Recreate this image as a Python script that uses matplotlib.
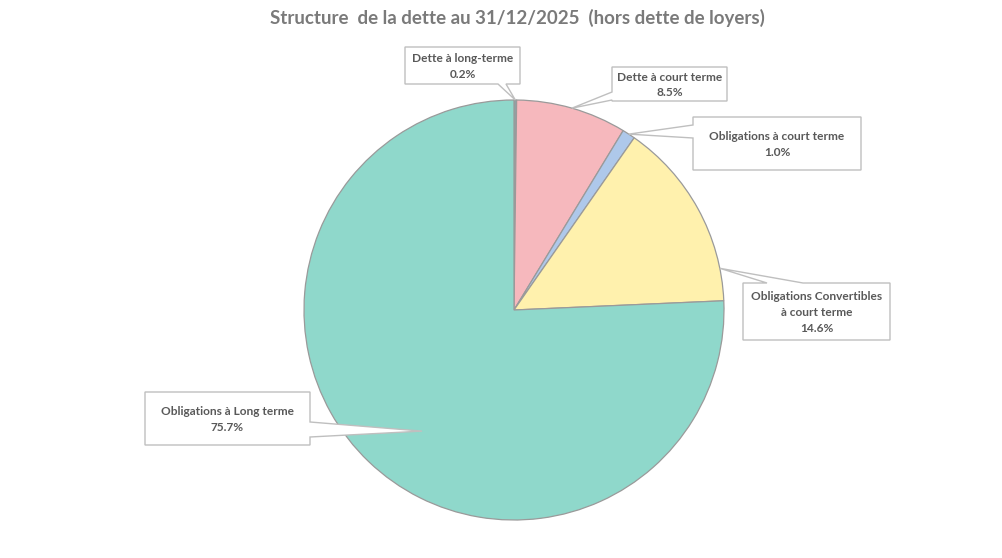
import numpy as np
import matplotlib.pyplot as plt
from matplotlib.patches import Polygon

plt.rcParams['font.family'] = ['Lato', 'DejaVu Sans']

# données
labels = ['Dette à long-terme', 'Dette à court terme', 'Obligations à court terme',
          'Obligations Convertibles\nà court terme', 'Obligations à Long terme']
values = [0.2, 8.5, 1.0, 14.6, 75.7]
colors = ['#8fa3a8', '#f6b8bd', '#aec8ea', '#fff1ad', '#8fd8cb']

W, H = 1002, 558
fig = plt.figure(figsize=(W / 100, H / 100), dpi=100)
ax = fig.add_axes([0, 0, 1, 1])

cx, cy, R = 514, H - 310, 210
wedges, _ = ax.pie(values, colors=colors, startangle=90, counterclock=False,
                   center=(cx, cy), radius=R, frame=True,
                   wedgeprops=dict(edgecolor='#9a9a9a', linewidth=0.9))
ax.set_xlim(0, W)
ax.set_ylim(0, H)
ax.set_aspect('equal')
ax.axis('off')


def px(x, y):
    return (x, H - y)


# boîtes des étiquettes (pixels): box, côté du pointeur, base, position sur la part, rayon
callouts = [
    ((405, 47, 520, 84), 'bottom', (498, 506), 0.5, 1.0),
    ((612, 67, 727, 101), 'left', (92, 100), 0.5, 1.0),
    ((693, 117, 861, 170), 'left', (125, 138), 0.5, 1.0),
    ((743, 283, 890, 340), 'top', (767, 803), 0.83, 1.0),
    ((145, 392, 310, 445), 'right', (422, 437), 0.476, 0.724),
]

for wdg, lab, val, (box, side, base, wpos, rf) in zip(wedges, labels, values, callouts):
    ang = np.radians(wdg.theta2 - wpos * (wdg.theta2 - wdg.theta1))
    tip = (cx + R * rf * np.cos(ang), cy + R * rf * np.sin(ang))
    x0, y0, x1, y1 = box
    a, b = base
    if side == 'bottom':
        pts = [px(x0, y0), px(x1, y0), px(x1, y1), px(b, y1), tip, px(a, y1), px(x0, y1)]
    elif side == 'left':
        pts = [px(x0, y0), px(x1, y0), px(x1, y1), px(x0, y1), px(x0, b), tip, px(x0, a)]
    elif side == 'top':
        pts = [px(x0, y0), px(a, y0), tip, px(b, y0), px(x1, y0), px(x1, y1), px(x0, y1)]
    else:
        pts = [px(x0, y0), px(x1, y0), px(x1, a), tip, px(x1, b), px(x1, y1), px(x0, y1)]
    ax.add_patch(Polygon(pts, closed=True, facecolor='white', edgecolor='#bfbfbf',
                         linewidth=1.0, zorder=5))
    ax.text((x0 + x1) / 2, H - (y0 + y1) / 2 - 1, f'{lab}\n{val:.1f}%', ha='center',
            va='center', fontsize=8.6, fontweight='bold', color='#595959',
            linespacing=1.5, zorder=6)

fig.text(517 / W, 1 - 18 / H, 'Structure  de la dette au 31/12/2025  (hors dette de loyers)',
         ha='center', va='center', fontsize=13.5, fontweight='bold', color='#7a7a7a')

plt.savefig('out.png', dpi=100)
